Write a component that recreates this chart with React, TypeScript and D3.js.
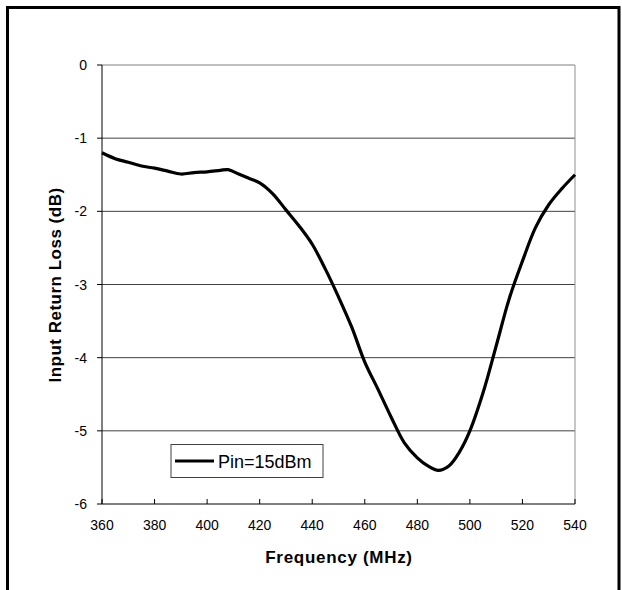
import React from 'react';
import * as d3 from 'd3';

// Input return loss vs frequency, Pin = 15 dBm
const freqs = [
  360, 365, 370, 375, 380, 385, 390, 395, 400, 405, 408, 412, 416, 420, 425, 430, 435, 440, 445,
  450, 455, 460, 465, 470, 475, 480, 484, 488, 492, 496, 500, 505, 510, 515, 520, 525, 530, 535, 540,
];
const returnLoss = [
  -1.2, -1.28, -1.33, -1.38, -1.41, -1.45, -1.49, -1.47, -1.46, -1.44, -1.43, -1.49, -1.55, -1.61,
  -1.76, -1.98, -2.2, -2.45, -2.79, -3.17, -3.58, -4.06, -4.43, -4.81, -5.16, -5.37, -5.48, -5.54,
  -5.48, -5.29, -5.0, -4.48, -3.84, -3.19, -2.68, -2.22, -1.91, -1.69, -1.5,
];
const xTicks = [360, 380, 400, 420, 440, 460, 480, 500, 520, 540];
const yTicks = [0, -1, -2, -3, -4, -5, -6];
const seriesName = 'Pin=15dBm';
const xTitle = 'Frequency (MHz)';
const yTitle = 'Input Return Loss (dB)';

const W = 622;
const H = 590;
const font = '"Liberation Sans", Arial, sans-serif';

export default function App() {
  const x = d3.scaleLinear().domain([360, 540]).range([102, 575]);
  const y = d3.scaleLinear().domain([-6, 0]).range([504, 65]);

  const points: [number, number][] = freqs.map((f, i) => [f, returnLoss[i]]);
  const line = d3
    .line<[number, number]>()
    .x(d => x(d[0]))
    .y(d => y(d[1]))
    .curve(d3.curveCatmullRom.alpha(0.5));

  const [x0, x1] = x.range();
  const [y0, y1] = y.range();

  return (
    <svg
      width={W}
      height={H}
      style={{ position: 'absolute', left: 0, top: 0, background: '#fff' }}
      fontFamily={font}
    >
      {/* outer frame */}
      <path d={`M7.5,${H} V7.5 H619 V${H}`} fill="none" stroke="#000" strokeWidth={3} />

      {/* gridlines */}
      {yTicks
        .filter(t => t !== 0 && t !== -6)
        .map(t => (
          <line key={t} x1={x0} x2={x1} y1={y(t)} y2={y(t)} stroke="#404040" strokeWidth={1} />
        ))}

      {/* plot area top & right border */}
      <line x1={x0} x2={x1} y1={y1} y2={y1} stroke="#808080" strokeWidth={1} />
      <line x1={x1} x2={x1} y1={y1} y2={y0} stroke="#909090" strokeWidth={1} />

      {/* axes */}
      <line x1={x0} x2={x0} y1={y1} y2={y0} stroke="#000" strokeWidth={1} />
      <line x1={x0} x2={x1} y1={y0} y2={y0} stroke="#000" strokeWidth={1} />

      {yTicks.map(t => (
        <g key={t}>
          <line x1={x0 - 5} x2={x0} y1={y(t)} y2={y(t)} stroke="#000" />
          <text x={87} y={y(t) + 5} textAnchor="end" fontSize={14} fill="#000">
            {t}
          </text>
        </g>
      ))}

      {xTicks.map(t => (
        <g key={t}>
          <line x1={x(t)} x2={x(t)} y1={y0} y2={y0 - 5} stroke="#000" />
          <text x={x(t)} y={530} textAnchor="middle" fontSize={14} fill="#000">
            {t}
          </text>
        </g>
      ))}

      {/* series */}
      <path d={line(points) || ''} fill="none" stroke="#000" strokeWidth={3.2} strokeLinejoin="round" />

      {/* axis titles */}
      <text x={339} y={563} textAnchor="middle" fontSize={17} fontWeight="bold" letterSpacing={0.7}>
        {xTitle}
      </text>
      <text
        transform="translate(61,285) rotate(-90)"
        textAnchor="middle"
        fontSize={17}
        fontWeight="bold"
        letterSpacing={0.5}
      >
        {yTitle}
      </text>

      {/* legend */}
      <rect x={171} y={444.5} width={152} height={33} fill="#fff" stroke="#404040" strokeWidth={1} />
      <line x1={175} x2={214} y1={461} y2={461} stroke="#000" strokeWidth={3.2} />
      <text x={218} y={467.5} fontSize={18} fill="#000">
        {seriesName}
      </text>
    </svg>
  );
}
